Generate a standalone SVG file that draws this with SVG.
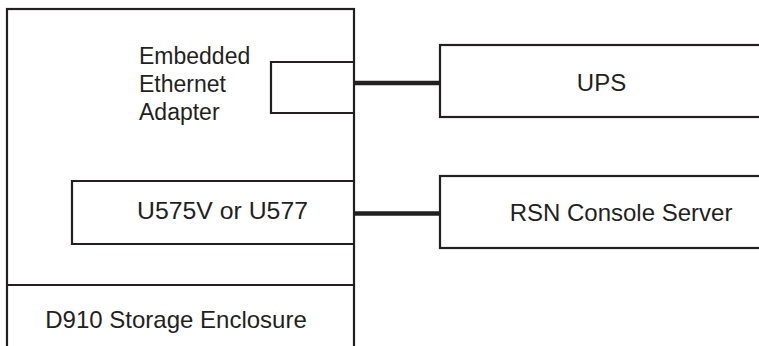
<svg xmlns="http://www.w3.org/2000/svg" width="759" height="346" viewBox="0 0 759 346">
<style>
.box{fill:none;stroke:#231f20;stroke-width:2.2}
.conn{stroke:#231f20;stroke-width:4.5;fill:none}
.t{font-family:"Liberation Sans",Arial,sans-serif;font-size:24px;fill:#231f20}
.s{font-size:23px}
.c{text-anchor:middle}
</style>
<rect width="759" height="346" fill="#ffffff"/>
<g id="enclosure">
<rect class="box" x="7" y="9" width="347" height="350"/>
<line class="box" x1="7" y1="285" x2="354" y2="285"/>
<text class="t c" x="176" y="328">D910 Storage Enclosure</text>
</g>
<g id="ethernet-adapter">
<polyline class="box" points="354,62 271,62 271,113 354,113"/>
<text class="t s" x="139" y="64">Embedded</text>
<text class="t s" x="139" y="92">Ethernet</text>
<text class="t s" x="139" y="120">Adapter</text>
</g>
<g id="u575v">
<polyline class="box" points="354,181 72,181 72,244 354,244"/>
<text class="t c" x="222.5" y="219" textLength="171" lengthAdjust="spacingAndGlyphs">U575V or U577</text>
</g>
<g id="ups">
<rect class="box" x="440" y="45" width="330" height="72"/>
<text class="t c" x="601.5" y="91">UPS</text>
</g>
<g id="rsn">
<rect class="box" x="440" y="176" width="330" height="72"/>
<text class="t c" x="621" y="221">RSN Console Server</text>
</g>
<g id="connectors">
<line class="conn" x1="354" y1="83" x2="439" y2="83"/>
<line class="conn" x1="354" y1="213.5" x2="439" y2="213.5"/>
</g>
</svg>
